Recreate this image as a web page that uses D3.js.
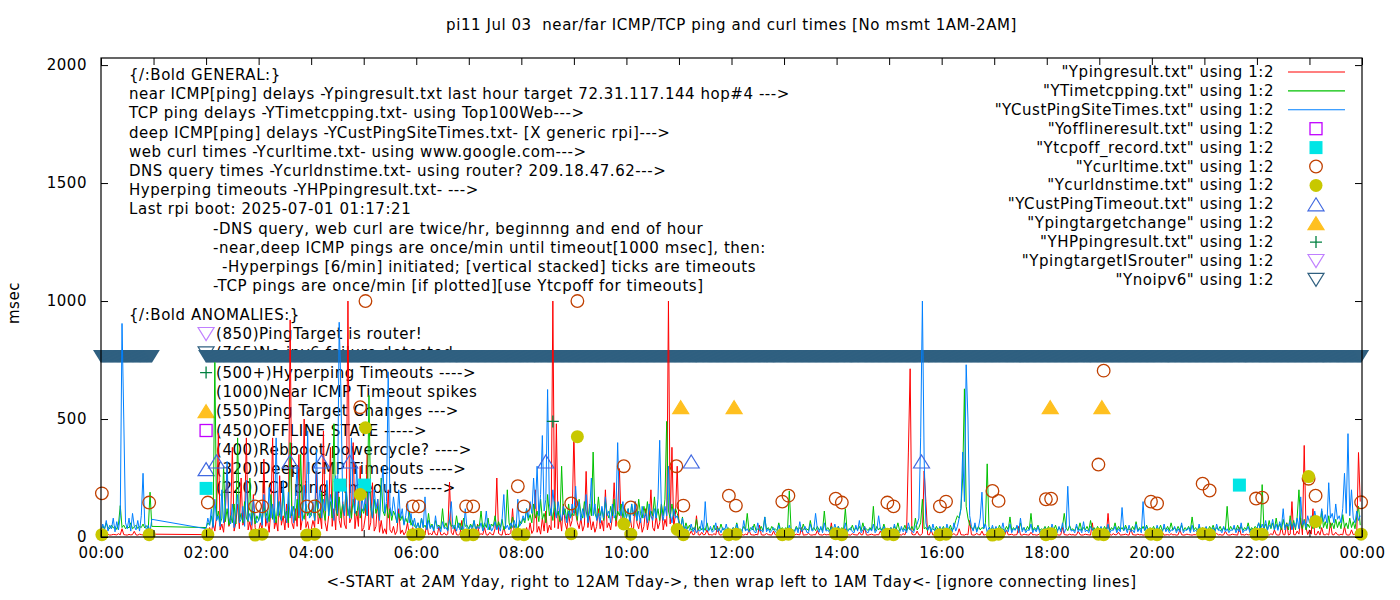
<!DOCTYPE html>
<html>
<head>
<meta charset="utf-8">
<script src="https://cdn.jsdelivr.net/npm/d3@7"></script>
<style>
  body { margin: 0; background: #fff; }
  text { font-family: "DejaVu Sans", sans-serif; font-size: 15px; letter-spacing: 0.55px; fill: #000; }
</style>
</head>
<body>
<div id="chart"></div>
<script>
// hours that have measurements (no msmt 1AM-2AM), samples every 2 min
var hoursOfData = [0,2,3,4,5,6,7,8,9,10,11,12,13,14,15,16,17,18,19,20,21,22,23];
var sampleStep = 2;

// near ICMP ping delays (Ypingresult.txt), one row per hour
var nearPing = [
  [9,8,10,9,12,8,9,11,10,9, 14,9,35,10,9,8,11,9,10,24, 9,8,12,10,9,11,8,10,9,12],
  [10,12,40,18,60,25,90,440,30,55, 20,110,300,45,70,380,25,60,140,35, 250,50,80,420,30,65,15,180,40,22],
  [25,60,30,330,45,80,20,110,420,35, 70,25,260,50,90,30,140,40,920,60, 35,120,45,350,30,80,500,40,65,20],
  [30,70,40,280,55,100,35,450,60,25, 90,380,45,120,30,250,70,40,150,55, 35,1000,60,80,400,35,110,45,300,25],
  [40,90,350,30,60,230,25,45,160,20, 70,15,35,12,200,30,18,45,10,25, 120,14,30,9,22,60,10,15,40,9],
  [10,20,9,35,12,8,60,10,15,9, 30,11,8,45,10,9,18,8,12,233, 20,9,40,10,8,14,70,9,12,10],
  [9,12,30,10,8,55,9,14,10,40, 9,8,20,11,9,35,250,15,10,8, 45,9,12,10,18,120,9,30,10,8],
  [10,25,9,40,12,60,15,30,200,20, 45,12,80,25,110,18,50,30,1000,40, 480,35,90,25,140,60,30,100,45,70],
  [440,100,60,35,80,25,50,278,40,90, 30,65,20,45,120,35,70,25,200,40, 60,30,85,230,45,110,290,60,35,75],
  [50,30,90,40,25,150,60,35,80,20, 45,120,30,70,200,40,25,90,35,60, 140,30,75,45,1000,55,380,40,95,300],
  [40,20,12,30,9,15,10,25,9,12, 90,10,8,20,9,11,30,9,10,8, 14,9,45,10,8,12,9,20,10,9],
  [9,10,8,14,9,20,10,8,12,9, 30,10,9,8,11,9,50,10,8,9, 15,10,9,8,25,9,10,8,12,9],
  [10,8,9,22,10,9,8,12,10,9, 40,8,9,10,15,9,8,10,9,28, 10,9,8,12,9,10,9,60,8,10],
  [9,10,8,12,9,35,10,9,8,14, 10,9,8,20,9,10,45,9,8,10, 12,9,8,10,9,25,10,8,9,11],
  [10,9,12,8,20,9,10,8,14,9, 30,360,713,12,9,10,25,9,8,15, 280,150,10,9,30,8,12,10,9,14],
  [9,12,10,8,20,9,10,14,8,9, 35,10,9,8,12,9,70,10,8,9, 15,10,9,25,8,10,9,12,8,9],
  [10,9,8,14,9,10,8,30,9,10, 12,8,9,10,45,9,8,12,10,9, 8,20,9,10,8,9,14,10,9,8],
  [9,10,12,8,9,15,10,8,9,40, 10,9,8,12,9,10,8,9,25,10, 8,9,12,10,9,8,60,9,10,8],
  [10,9,12,8,9,100,10,8,14,9, 10,20,8,9,10,12,9,8,35,10, 9,8,12,9,10,8,9,15,10,9],
  [9,10,8,12,9,10,20,8,9,10, 8,14,9,10,8,9,30,10,8,9, 12,10,9,8,10,9,18,8,9,10],
  [10,9,8,12,10,9,8,15,9,10, 8,9,25,10,8,9,12,10,9,8, 40,9,10,8,12,9,10,8,9,14],
  [9,10,12,8,20,9,10,8,14,9, 30,10,8,9,45,10,9,60,8,12, 150,10,9,25,12,80,9,388,40,10],
  [30,12,120,10,9,25,8,40,10,9, 14,8,60,10,9,20,10,8,12,9, 45,10,8,9,30,10,12,9,358,150]
];

// TCP ping delays (YTimetcpping.txt)
var tcpPing = [
  [30,45,35,60,40,35,50,38,45,32, 55,133,40,50,35,45,38,60,35,42, 50,36,45,40,55,38,48,35,190,45],
  [40,60,50,90,45,740,70,110,55,80, 300,65,120,50,90,60,140,55,420,70, 100,60,150,80,65,250,70,110,55,90],
  [70,100,60,140,80,110,65,180,75,120, 60,150,90,70,200,80,110,60,400,90, 130,70,160,80,350,100,75,140,90,110],
  [90,130,70,160,100,80,190,110,70,220, 90,150,80,480,120,90,170,80,140,100, 200,90,130,80,160,110,90,150,80,120],
  [100,140,90,600,120,80,160,100,130,80, 250,110,90,140,80,120,70,110,90,60, 100,70,90,55,80,60,110,50,70,45],
  [40,60,35,80,40,50,35,100,40,55, 30,70,45,50,35,120,40,60,30,75, 45,50,35,90,40,60,30,80,45,50],
  [35,55,40,70,30,50,45,110,35,60, 40,80,30,55,45,90,35,65,40,75, 30,50,200,60,35,85,40,55,30,70],
  [55,80,60,120,70,95,60,140,80,110, 65,160,75,100,60,180,90,120,70,150, 85,110,65,300,95,120,70,140,80,100],
  [90,130,70,160,100,80,150,110,70,140, 90,360,100,80,170,90,120,70,150,100, 80,130,90,160,70,110,90,140,80,120],
  [80,120,70,140,90,110,70,160,100,80, 130,90,150,70,110,90,170,80,120,70, 140,90,160,490,110,80,140,90,120,100],
  [70,40,85,30,60,35,50,28,40,30, 75,28,45,30,40,28,60,30,35,28, 50,30,40,28,55,30,35,28,40,30],
  [30,40,27,60,30,35,27,45,30,100, 27,40,30,55,27,35,30,45,27,85, 30,40,27,45,30,35,27,60,30,40],
  [27,40,30,195,35,30,27,45,30,40, 27,55,30,35,27,70,30,40,27,45, 30,35,27,110,30,40,27,45,30,35],
  [30,45,27,40,30,120,27,35,30,50, 27,40,30,45,27,60,30,35,27,40, 30,130,27,45,30,40,27,55,30,35],
  [30,40,27,45,30,60,27,35,30,50, 27,40,30,45,27,80,30,40,60,160, 35,40,27,50,30,35,27,45,30,40],
  [30,45,27,40,30,50,27,40,70,90, 80,120,250,628,130,80,50,40,30,50, 27,45,30,40,35,60,310,45,30,40],
  [30,40,27,50,30,35,27,45,30,85, 27,40,30,45,27,60,30,40,27,45, 30,100,27,40,30,50,27,35,30,45],
  [30,45,27,40,30,50,27,40,30,45, 100,40,27,50,30,35,27,45,30,60, 27,40,30,45,27,70,30,40,27,45],
  [30,40,27,45,30,50,27,40,30,60, 27,45,30,40,27,50,30,35,27,45, 30,65,27,40,30,45,27,50,30,40],
  [30,45,27,40,30,50,27,40,30,45, 27,60,30,40,27,45,30,50,27,40, 30,45,27,85,30,40,27,45,30,40],
  [30,40,27,45,30,50,27,40,30,45, 27,40,30,130,27,45,30,40,27,50, 30,45,27,40,30,60,27,40,30,45],
  [35,60,30,222,35,55,30,70,35,60, 30,80,35,55,30,75,40,60,30,90, 35,70,30,85,200,60,35,75,30,55],
  [40,65,35,85,40,60,35,110,40,65, 35,90,40,60,35,75,40,65,35,95, 40,60,35,80,40,65,35,85,130,50]
];

// deep ICMP ping delays (YCustPingSiteTimes.txt)
var deepPing = [
  [25,55,30,70,25,50,35,80,22,65, 30,90,905,500,60,35,80,25,100,45, 30,70,25,90,270,55,30,50,22,75],
  [35,80,50,120,40,160,70,90,45,200, 60,110,320,80,55,140,40,95,180,60, 75,130,45,240,70,100,50,160,85,60],
  [70,120,50,180,90,60,210,80,140,60, 420,90,150,70,240,110,60,190,80,130, 60,170,300,90,140,70,220,100,450,80],
  [90,150,70,370,120,200,80,160,110,240, 90,180,130,70,260,100,910,615,140,90, 210,120,80,420,150,100,300,130,90,170],
  [110,180,90,230,140,80,200,120,160,70, 190,300,100,150,700,130,90,170,110,60, 200,80,120,50,90,150,60,100,45,80],
  [35,60,25,80,40,170,30,70,35,50, 25,90,35,45,22,65,35,40,25,75, 150,35,50,25,60,30,45,25,120,35],
  [30,50,25,70,28,45,35,60,25,45, 110,30,55,25,40,65,30,50,25,75, 180,35,50,30,60,40,70,35,160,45],
  [60,90,70,120,80,150,100,250,120,300, 90,180,430,110,160,625,140,90,200,120, 80,150,100,70,130,90,60,110,80,140],
  [100,215,90,150,70,120,80,180,60,110, 250,90,140,70,100,60,130,80,170,90, 110,60,140,80,100,400,120,90,150,70],
  [80,120,60,140,90,150,70,110,60,130, 80,100,60,140,90,70,120,80,160,410, 110,70,130,90,300,100,60,120,80,90],
  [60,35,80,25,45,20,30,55,22,40, 18,30,25,70,20,150,30,25,45,20, 28,60,22,35,18,40,25,55,20,30],
  [25,40,18,55,22,30,18,70,25,35, 20,28,45,22,18,60,25,30,20,85, 22,35,18,28,40,22,18,50,25,30],
  [22,35,18,50,25,30,20,40,18,65, 22,30,45,20,18,55,25,30,100,35, 20,45,18,60,25,30,18,40,22,55],
  [25,45,18,35,22,60,18,30,40,22, 18,50,25,70,18,30,45,22,18,35, 25,55,18,30,90,35,20,45,22,30],
  [22,40,18,55,25,30,18,45,22,35, 18,60,30,25,18,45,55,80,420,1000, 330,60,30,45,20,55,25,35,18,45],
  [25,40,18,55,30,35,20,60,25,45, 80,120,360,150,730,500,90,45,25,60, 20,40,80,190,35,55,20,40,25,50],
  [22,45,18,35,28,60,18,30,22,55, 18,35,28,50,18,80,22,40,18,30, 28,55,18,35,22,45,18,30,28,40],
  [22,35,18,55,28,30,18,45,22,60, 18,35,215,45,25,30,18,55,22,35, 18,65,22,30,18,45,28,35,18,30],
  [28,45,18,35,22,55,18,30,28,45, 18,35,22,125,28,40,18,50,22,30, 18,55,22,35,18,150,28,45,18,35],
  [22,35,18,50,28,30,18,55,22,35, 18,30,28,45,18,35,22,60,18,30, 28,40,18,50,22,30,18,55,22,35],
  [28,45,18,30,22,40,18,55,28,30, 18,45,22,35,18,30,28,50,18,35, 22,60,18,30,28,45,18,35,22,30],
  [35,60,28,55,35,70,28,50,40,75, 30,55,28,65,40,120,30,55,45,70, 30,60,40,80,35,170,50,70,40,90],
  [60,90,50,110,70,80,55,120,65,95, 60,230,80,100,60,140,75,90,60,120, 270,100,438,90,200,80,60,110,70,90]
];

// web curl times (Ycurltime.txt), twice an hour
var curlTimes = [
  ["00:01",185],["00:55",146],["02:02",146],["02:56",130],["03:04",130],["03:55",130],["04:04",130],
  ["04:56",550],["05:02",1000],["05:56",130],["06:03",130],["06:57",130],["07:05",130],["07:56",215],
  ["08:03",130],["08:57",142],["09:04",1000],["09:57",300],["10:05",125],["10:57",300],["11:05",133],
  ["11:57",175],["12:05",133],["12:58",150],["13:05",175],["13:59",162],["14:06",146],["14:58",146],
  ["15:05",130],["15:58",130],["16:05",150],["16:58",195],["17:05",153],["17:59",160],["18:05",162],
  ["18:59",307],["19:05",705],["19:59",150],["20:06",142],["20:58",226],["21:06",197],["21:59",163],
  ["22:06",167],["22:59",247],["23:07",175],["23:59",147]
];

// DNS query times (Ycurldnstime.txt)
var dnsTimes = [
  ["00:01",10],["00:55",10],["02:02",10],["02:56",8],["03:04",12],["03:55",8],["04:04",12],
  ["04:56",180],["05:02",463],["05:56",10],["06:03",12],["06:57",8],["07:05",10],["07:56",12],
  ["08:03",10],["08:57",14],["09:04",425],["09:57",55],["10:05",12],["10:58",32],["11:05",10],
  ["11:57",10],["12:05",12],["12:58",10],["13:05",12],["13:59",14],["14:06",10],["14:58",12],
  ["15:05",10],["15:58",10],["16:05",12],["16:58",8],["17:05",12],["17:59",10],["18:05",14],
  ["18:59",12],["19:05",10],["19:59",12],["20:06",10],["20:58",14],["21:06",10],["21:59",12],
  ["22:06",12],["22:59",256],["23:07",66],["23:59",12]
];

// event markers
var deepTimeouts = ["02:12","03:36","04:12","04:44","08:28","11:14","15:37"];
var deepTimeoutValue = 320;
var targetChanges = ["11:02","12:03","18:04","19:03"];
var targetChangeValue = 550;
var tcpOffTimes = ["04:33","05:01","21:40"];
var tcpOffValue = 220;
var hpTimeouts = [["08:36",490]];
var noipv6Spans = [["00:00","00:58"],["02:00","23:59"]];
var noipv6Value = 765;

var yTicks = [0,500,1000,1500,2000];
var xTickLabels = ["00:00","02:00","04:00","06:00","08:00","10:00","12:00","14:00","16:00","18:00","20:00","22:00","00:00"];

var legendLabels = [
  '"Ypingresult.txt" using 1:2', '"YTimetcpping.txt" using 1:2', '"YCustPingSiteTimes.txt" using 1:2',
  '"Yofflineresult.txt" using 1:2', '"Ytcpoff_record.txt" using 1:2', '"Ycurltime.txt" using 1:2',
  '"Ycurldnstime.txt" using 1:2', '"YCustPingTimeout.txt" using 1:2', '"Ypingtargetchange" using 1:2',
  '"YHPpingresult.txt" using 1:2', '"YpingtargetISrouter" using 1:2', '"Ynoipv6" using 1:2'
];
var legendKinds = ["red","green","blue","offline","tcpoff","curl","dns","deepto","target","hp","router","noipv6"];

var generalLines = [
  ["{/:Bold GENERAL:}", 0],
  ["near ICMP[ping] delays -Ypingresult.txt last hour target 72.31.117.144 hop#4 --->", 0],
  ["TCP ping delays -YTimetcpping.txt- using Top100Web--->", 0],
  ["deep ICMP[ping] delays -YCustPingSiteTimes.txt- [X generic rpi]--->", 0],
  ["web curl times -Ycurltime.txt- using www.google.com--->", 0],
  ["DNS query times -Ycurldnstime.txt- using router? 209.18.47.62--->", 0],
  ["Hyperping timeouts -YHPpingresult.txt- --->", 0],
  ["Last rpi boot: 2025-07-01 01:17:21", 0],
  ["-DNS query, web curl are twice/hr, beginnng and end of hour", 84],
  ["-near,deep ICMP pings are once/min until timeout[1000 msec], then:", 84],
  ["-Hyperpings [6/min] initiated; [vertical stacked] ticks are timeouts", 93],
  ["-TCP pings are once/min [if plotted][use Ytcpoff for timeouts]", 84]
];
var anomalyLines = [
  ["(850)PingTarget is router!", "router"],
  ["(765)No ipv6 failure detected", "noipv6"],
  ["(500+)Hyperping Timeouts ---->", "hp"],
  ["(1000)Near ICMP Timeout spikes", null],
  ["(550)Ping Target Changes --->", "target"],
  ["(450)OFFLINE STATE ----->", "offline"],
  ["(400)Rebboot/powercycle? ---->", null],
  ["(320)Deep ICMP Timeouts ---->", "deepto"],
  ["(220)TCP ping Timeouts ----->", "tcpoff"]
];

var colors = {
  red: "#ff0000", green: "#00c000", blue: "#0080ff", offline: "#c000ff", tcpoff: "#00e5e5",
  curl: "#c04000", dns: "#c8c800", deepto: "#4169e1", target: "#ffc020", hp: "#008040",
  router: "#c080ff", noipv6: "#306080"
};

var W = 1400, H = 600;
var margin = { top: 58, right: 38, bottom: 63, left: 101 };
var plotW = W - margin.left - margin.right;
var plotH = H - margin.top - margin.bottom;

var svg = d3.select("#chart").append("svg").attr("width", W).attr("height", H);

var x = d3.scaleLinear().domain([0, 1440]).range([margin.left, margin.left + plotW]);
var y = d3.scaleLinear().domain([0, 2030]).range([margin.top + plotH, margin.top]);

function mins(s) { var p = s.split(":"); return +p[0] * 60 + +p[1]; }

function toPoints(rows) {
  var pts = [];
  rows.forEach(function(row, h) {
    row.forEach(function(v, j) { pts.push({ t: hoursOfData[h] * 60 + j * sampleStep, v: v }); });
  });
  return pts;
}

// marker shapes, drawn at pixel position
function drawMarker(g, kind, px, py) {
  var c = colors[kind];
  if (kind === "curl") {
    g.append("circle").attr("cx", px).attr("cy", py).attr("r", 6.3)
      .attr("fill", "none").attr("stroke", c).attr("stroke-width", 1.3);
  } else if (kind === "dns") {
    g.append("circle").attr("cx", px).attr("cy", py).attr("r", 6.5).attr("fill", c);
  } else if (kind === "offline") {
    g.append("rect").attr("x", px - 6).attr("y", py - 6).attr("width", 12).attr("height", 12)
      .attr("fill", "none").attr("stroke", c).attr("stroke-width", 1.3);
  } else if (kind === "tcpoff") {
    g.append("rect").attr("x", px - 6.5).attr("y", py - 6.5).attr("width", 13).attr("height", 13).attr("fill", c);
  } else if (kind === "deepto" || kind === "target") {
    g.append("path").attr("d", "M" + px + "," + (py - 6.5) + "L" + (px + 8) + "," + (py + 6.5) + "L" + (px - 8) + "," + (py + 6.5) + "Z")
      .attr("fill", kind === "target" ? c : "none").attr("stroke", c).attr("stroke-width", 1.2);
  } else if (kind === "router" || kind === "noipv6") {
    g.append("path").attr("d", "M" + (px - 8) + "," + (py - 6.5) + "L" + (px + 8) + "," + (py - 6.5) + "L" + px + "," + (py + 6.5) + "Z")
      .attr("fill", "none").attr("stroke", c).attr("stroke-width", 1.2);
  } else if (kind === "hp") {
    g.append("path").attr("d", "M" + (px - 6) + "," + py + "H" + (px + 6) + "M" + px + "," + (py - 6) + "V" + (py + 6))
      .attr("stroke", c).attr("stroke-width", 1.3);
  }
}

// title and axis labels
svg.append("text").attr("x", margin.left + plotW / 2).attr("y", 30).attr("text-anchor", "middle")
  .style("white-space", "pre").text("pi11 Jul 03  near/far ICMP/TCP ping and curl times [No msmt 1AM-2AM]");
svg.append("text").attr("x", margin.left + plotW / 2).attr("y", 587).attr("text-anchor", "middle")
  .text("<-START at 2AM Yday, right to 12AM Tday->, then wrap left to 1AM Tday<- [ignore connecting lines]");
svg.append("text").attr("transform", "translate(19,303) rotate(-90)").attr("text-anchor", "middle").text("msec");

// background notes (drawn behind the data)
var notes = svg.append("g");
generalLines.forEach(function(d, i) {
  notes.append("text").attr("x", 129 + d[1]).attr("y", 80 + i * 19.2).text(d[0]);
});
notes.append("text").attr("x", 129).attr("y", 320).text("{/:Bold ANOMALIES:}");
anomalyLines.forEach(function(d, i) {
  var cy = 334 + i * 19.3;
  notes.append("text").attr("x", 216).attr("y", cy + 5).text(d[0]);
  if (d[1]) drawMarker(notes, d[1], x(120), cy);
});

// no-ipv6 band: one marker per minute
var band = svg.append("g");
noipv6Spans.forEach(function(s) {
  for (var m = mins(s[0]); m <= mins(s[1]); m++) {
    var px = x(m), py = y(noipv6Value);
    band.append("path").attr("d", "M" + (px - 8) + "," + (py - 6.5) + "L" + (px + 8) + "," + (py - 6.5) + "L" + px + "," + (py + 6.5) + "Z")
      .attr("fill", colors.noipv6);
  }
});

// line series
var line = d3.line().x(function(d) { return x(d.t); }).y(function(d) { return y(d.v); });
[[nearPing, "red"], [tcpPing, "green"], [deepPing, "blue"]].forEach(function(s) {
  svg.append("path").datum(toPoints(s[0]))
    .attr("fill", "none").attr("stroke", colors[s[1]]).attr("stroke-width", 1)
    .attr("d", line);
});

// point series
var pts = svg.append("g");
tcpOffTimes.forEach(function(t) { drawMarker(pts, "tcpoff", x(mins(t)), y(tcpOffValue)); });
curlTimes.forEach(function(d) { drawMarker(pts, "curl", x(mins(d[0])), y(d[1])); });
dnsTimes.forEach(function(d) { drawMarker(pts, "dns", x(mins(d[0])), y(d[1])); });
deepTimeouts.forEach(function(t) { drawMarker(pts, "deepto", x(mins(t)), y(deepTimeoutValue)); });
targetChanges.forEach(function(t) { drawMarker(pts, "target", x(mins(t)), y(targetChangeValue)); });
hpTimeouts.forEach(function(d) { drawMarker(pts, "hp", x(mins(d[0])), y(d[1])); });

// axes with inward ticks, mirrored
var hourTicks = d3.range(0, 1441, 60);
var axB = svg.append("g").attr("transform", "translate(0," + (margin.top + plotH) + ")")
  .call(d3.axisBottom(x).tickValues(hourTicks).tickSizeInner(-7).tickSizeOuter(0).tickPadding(10)
    .tickFormat(function(d) { return d % 120 === 0 ? xTickLabels[d / 120] : ""; }));
var axT = svg.append("g").attr("transform", "translate(0," + margin.top + ")")
  .call(d3.axisTop(x).tickValues(hourTicks).tickSizeInner(-7).tickSizeOuter(0).tickFormat(""));
var axL = svg.append("g").attr("transform", "translate(" + margin.left + ",0)")
  .call(d3.axisLeft(y).tickValues(yTicks).tickSizeInner(-7).tickSizeOuter(0).tickPadding(14).tickFormat(d3.format("d")));
var axR = svg.append("g").attr("transform", "translate(" + (margin.left + plotW) + ",0)")
  .call(d3.axisRight(y).tickValues(yTicks).tickSizeInner(-7).tickSizeOuter(0).tickFormat(""));
[axB, axT, axL, axR].forEach(function(a) {
  a.select(".domain").remove();
  a.selectAll("line").attr("stroke", "#000");
  a.selectAll("text").style("font-family", '"DejaVu Sans", sans-serif').style("font-size", "15px")
    .style("letter-spacing", "0.55px").attr("fill", "#000");
});
svg.append("rect").attr("x", margin.left).attr("y", margin.top).attr("width", plotW).attr("height", plotH)
  .attr("fill", "none").attr("stroke", "#000").attr("stroke-width", 1.2);

// legend
var leg = svg.append("g");
legendLabels.forEach(function(lbl, i) {
  var cy = 72 + i * 18.9;
  leg.append("text").attr("x", 1274).attr("y", cy + 5).attr("text-anchor", "end").text(lbl);
  var k = legendKinds[i];
  if (k === "red" || k === "green" || k === "blue") {
    leg.append("line").attr("x1", 1288).attr("x2", 1345).attr("y1", cy).attr("y2", cy)
      .attr("stroke", colors[k]).attr("stroke-width", 1.1);
  } else {
    drawMarker(leg, k, 1316, cy);
  }
});
</script>
</body>
</html>
